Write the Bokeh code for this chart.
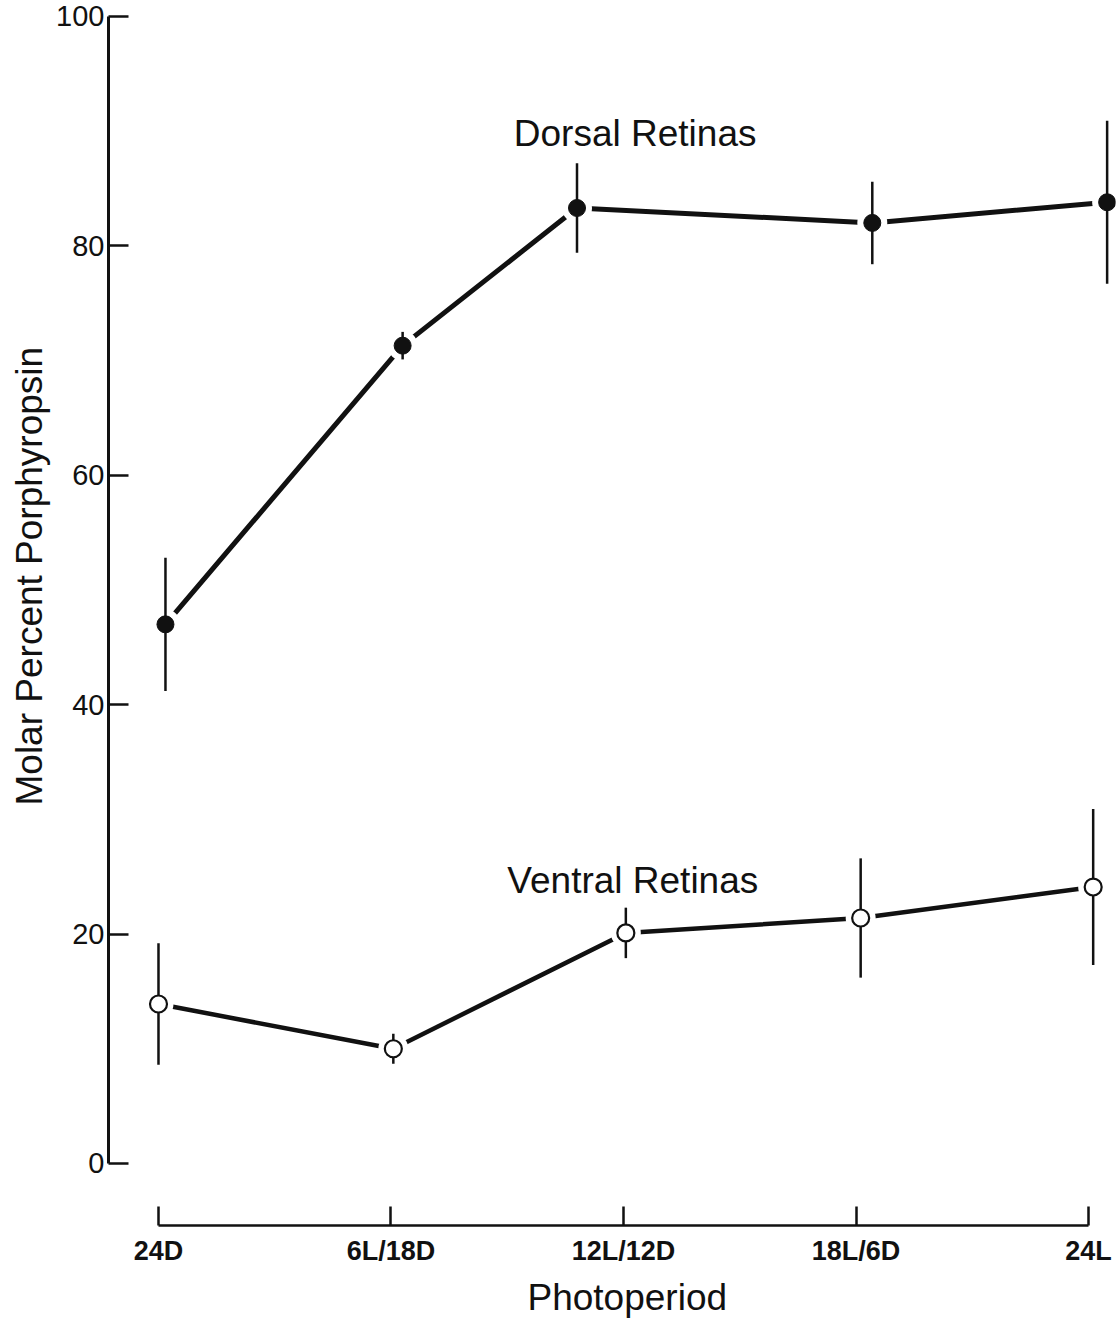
from bokeh.plotting import figure
from bokeh.models import FixedTicker, Range1d, Title
from bokeh.embed import file_html
from bokeh.resources import INLINE
from bokeh.core.properties import value

# Photoperiod categories along the x axis
photoperiods = ["24D", "6L/18D", "12L/12D", "18L/6D", "24L"]
tick_pos = [0, 1, 2, 3, 4]

# Dorsal retinas (filled circles): mean molar % porphyropsin and +/- error
dorsal_x = [0.03, 1.05, 1.80, 3.07, 4.08]
dorsal_mean = [47.0, 71.3, 83.3, 82.0, 83.8]
dorsal_err = [5.8, 1.2, 3.9, 3.6, 7.1]

# Ventral retinas (open circles)
ventral_x = [0.0, 1.01, 2.01, 3.02, 4.02]
ventral_mean = [13.9, 10.0, 20.1, 21.4, 24.1]
ventral_err = [5.3, 1.3, 2.2, 5.2, 6.8]

y_ticks = [0, 20, 40, 60, 80, 100]

FONT = "Liberation Sans"
INK = "#111111"

p = figure(
    width=1120, height=1324,
    x_range=Range1d(-0.215, 4.116), y_range=Range1d(-5.41, 100.52),
    output_backend="svg", toolbar_location=None,
    min_border_left=108, min_border_right=5, min_border_top=10, min_border_bottom=99,
)
p.grid.visible = False
p.outline_line_color = None
p.background_fill_color = "white"
p.border_fill_color = "white"

# y axis: line only from 0 to 100, ticks pointing inward
ya = p.yaxis[0]
ya.bounds = (0, 100)
ya.ticker = FixedTicker(ticks=y_ticks)
ya.major_tick_in = 20
ya.major_tick_out = 0
ya.minor_tick_in = 0
ya.minor_tick_out = 0
ya.axis_line_width = 3
ya.axis_line_color = INK
ya.major_tick_line_width = 2.5
ya.major_tick_line_color = INK
ya.major_label_text_font = FONT
ya.major_label_text_font_size = "29px"
ya.major_label_text_color = INK
ya.major_label_standoff = 4

# x axis: separate baseline spanning the photoperiods, ticks pointing up
xa = p.xaxis[0]
xa.bounds = (0, 4)
xa.ticker = FixedTicker(ticks=tick_pos)
xa.major_label_overrides = {t: lab for t, lab in zip(tick_pos, photoperiods)}
xa.major_tick_in = 19
xa.major_tick_out = 0
xa.minor_tick_in = 0
xa.minor_tick_out = 0
xa.axis_line_width = 2.5
xa.axis_line_color = INK
xa.major_tick_line_width = 2.5
xa.major_tick_line_color = INK
xa.major_label_text_font = FONT
xa.major_label_text_font_size = "27px"
xa.major_label_text_font_style = "bold"
xa.major_label_text_color = INK
xa.major_label_standoff = 10

# axis titles, placed as side titles so they can be nudged along the frame
p.add_layout(Title(text="Molar Percent Porphyropsin", align="left", offset=420,
                   text_font=FONT, text_font_size="37px", text_font_style="normal",
                   text_color=INK, standoff=8), "left")
p.add_layout(Title(text="Photoperiod", align="left", offset=419,
                   text_font=FONT, text_font_size="37px", text_font_style="normal",
                   text_color=INK, standoff=12), "below")


def draw_series(xs, means, errs, filled, lw):
    lo = [m - e for m, e in zip(means, errs)]
    hi = [m + e for m, e in zip(means, errs)]
    # connecting line, broken around each point by a white halo
    p.line(xs, means, line_width=lw, line_color=INK)
    p.scatter(xs, means, size=30, fill_color="white", line_color=None)
    p.segment(x0=xs, y0=lo, x1=xs, y1=hi, line_width=2.5, line_color=INK)
    if filled:
        p.scatter(xs, means, size=17, fill_color=INK, line_color=INK)
    else:
        p.scatter(xs, means, size=17, fill_color="white", line_color=INK, line_width=2.2)


draw_series(dorsal_x, dorsal_mean, dorsal_err, True, 5)
draw_series(ventral_x, ventral_mean, ventral_err, False, 4.5)

p.text(x=[2.05], y=[89.8], text=["Dorsal Retinas"], text_font=value(FONT),
       text_font_size="37px", text_align="center", text_baseline="middle", text_color=INK)
p.text(x=[2.04], y=[24.7], text=["Ventral Retinas"], text_font=value(FONT),
       text_font_size="37px", text_align="center", text_baseline="middle", text_color=INK)

open("out.html", "w").write(file_html(p, INLINE))
